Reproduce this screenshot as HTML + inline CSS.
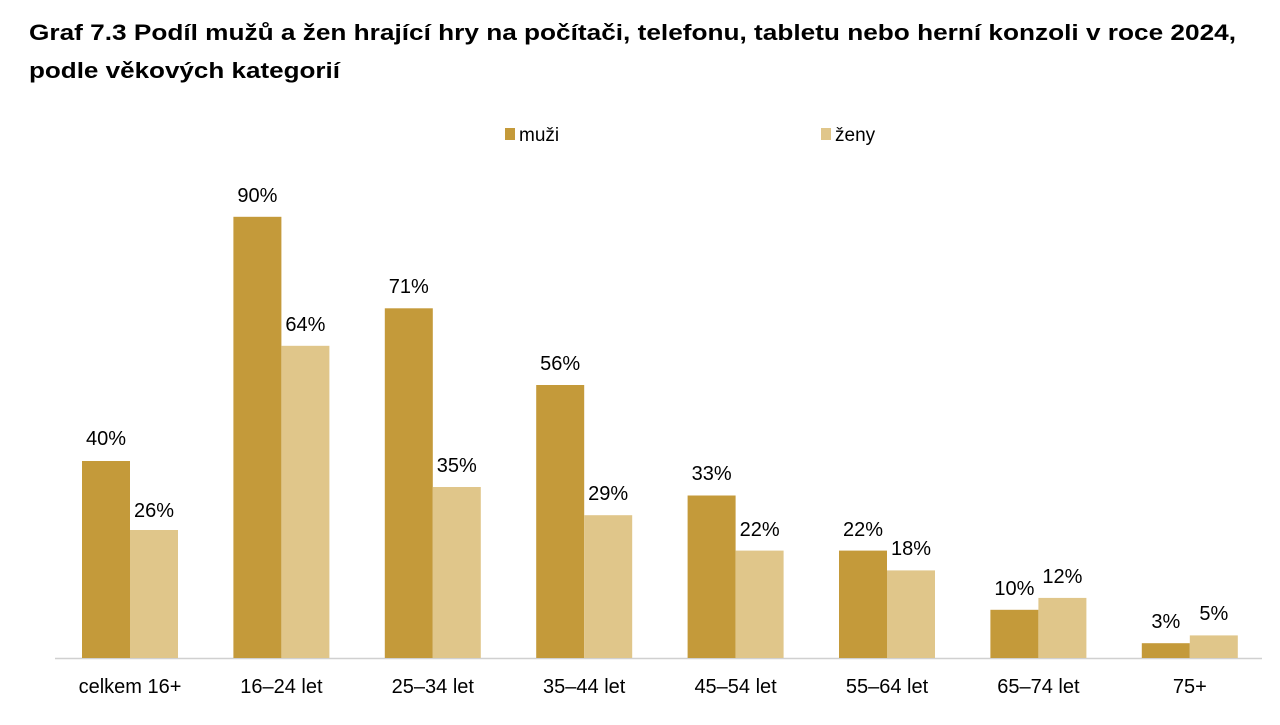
<!DOCTYPE html>
<html><head><meta charset="utf-8"><style>
body{margin:0;background:#fff;width:1280px;height:720px;overflow:hidden;font-family:"Liberation Sans",Arial,sans-serif}
</style></head><body>
<svg width="1280" height="720" xmlns="http://www.w3.org/2000/svg" font-family="Liberation Sans, Arial, sans-serif">
<text x="29" y="40" font-size="22" font-weight="bold" textLength="1207" lengthAdjust="spacingAndGlyphs">Graf 7.3 Podíl mužů a žen hrající hry na počítači, telefonu, tabletu nebo herní konzoli v roce 2024,</text>
<text x="29" y="78" font-size="22" font-weight="bold" textLength="311" lengthAdjust="spacingAndGlyphs">podle věkových kategorií</text>
<rect x="505" y="128" width="10" height="12" fill="#C49A3A"/>
<text x="519" y="141" font-size="19">muži</text>
<rect x="821" y="128" width="10" height="12" fill="#E0C68A"/>
<text x="835" y="141" font-size="19">ženy</text>
<line x1="55" y1="658.5" x2="1262" y2="658.5" stroke="#d0d0d0" stroke-width="1.5"/>
<g font-size="20" text-anchor="middle">
<rect x="82" y="461" width="48" height="197" fill="#C49A3A"/><text x="106" y="445">40%</text>
<rect x="130" y="530" width="48" height="128" fill="#E0C68A"/><text x="154" y="517">26%</text>
<text x="130" y="693">celkem 16+</text>

<rect x="233.4" y="216.8" width="48" height="441.2" fill="#C49A3A"/><text x="257.4" y="202">90%</text>
<rect x="281.4" y="345.8" width="48" height="312.2" fill="#E0C68A"/><text x="305.4" y="331">64%</text>
<text x="281.4" y="693">16–24 let</text>

<rect x="384.8" y="308.3" width="48" height="349.7" fill="#C49A3A"/><text x="408.8" y="293">71%</text>
<rect x="432.8" y="487" width="48" height="171" fill="#E0C68A"/><text x="456.8" y="472">35%</text>
<text x="432.8" y="693">25–34 let</text>

<rect x="536.2" y="385" width="48" height="273" fill="#C49A3A"/><text x="560.2" y="370">56%</text>
<rect x="584.2" y="515.2" width="48" height="142.8" fill="#E0C68A"/><text x="608.2" y="500">29%</text>
<text x="584.2" y="693">35–44 let</text>

<rect x="687.6" y="495.5" width="48" height="162.5" fill="#C49A3A"/><text x="711.6" y="480">33%</text>
<rect x="735.6" y="550.6" width="48" height="107.4" fill="#E0C68A"/><text x="759.6" y="536">22%</text>
<text x="735.6" y="693">45–54 let</text>

<rect x="839" y="550.6" width="48" height="107.4" fill="#C49A3A"/><text x="863" y="536">22%</text>
<rect x="887" y="570.4" width="48" height="87.6" fill="#E0C68A"/><text x="911" y="555">18%</text>
<text x="887" y="693">55–64 let</text>

<rect x="990.4" y="609.8" width="48" height="48.2" fill="#C49A3A"/><text x="1014.4" y="595">10%</text>
<rect x="1038.4" y="597.9" width="48" height="60.1" fill="#E0C68A"/><text x="1062.4" y="583">12%</text>
<text x="1038.4" y="693">65–74 let</text>

<rect x="1141.8" y="643.2" width="48" height="14.8" fill="#C49A3A"/><text x="1165.8" y="628">3%</text>
<rect x="1189.8" y="635.4" width="48" height="22.6" fill="#E0C68A"/><text x="1213.8" y="620">5%</text>
<text x="1189.8" y="693">75+</text>
</g>
</svg>
</body></html>
